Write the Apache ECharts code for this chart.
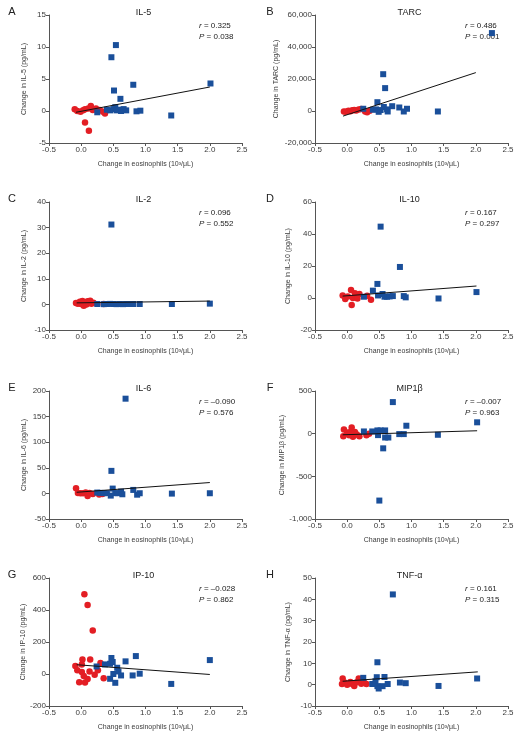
<!DOCTYPE html>
<html><head><meta charset="utf-8">
<script src="https://cdn.jsdelivr.net/npm/echarts@6/dist/echarts.min.js"></script>
<style>html,body{margin:0;padding:0;background:#fff}#c{width:522px;height:741px}</style>
</head><body><div id="c"></div>
<script>
// ---------- DATA ----------
const xTicks = [-0.5, 2.5, 0.5]; // min, max, step
const xName = 'Change in eosinophils (10\u00B3/\u03BCL)';

const panelLetters = ['A','B','C','D','E','F','G','H'];
const panelTitles = ['IL-5','TARC','IL-2','IL-10','IL-6','MIP1\u03B2','IP-10','TNF-\u03B1'];
const yNames = ['Change in IL-5 (pg/mL)','Change in TARC (pg/mL)','Change in IL-2 (pg/mL)','Change in IL-10 (pg/mL)',
  'Change in IL-6 (pg/mL)','Change in MIP1\u03B2 (pg/mL)','Change in IP-10 (pg/mL)','Change in TNF-\u03B1 (pg/mL)'];
const yMin = [-5, -20000, -10, -20, -50, -1000, -200, -10];
const yMax = [15, 60000, 40, 60, 200, 500, 600, 50];
const yStep = [5, 20000, 10, 20, 50, 500, 200, 10];
const rValues = ['0.325','0.486','0.096','0.167','\u20130.090','\u20130.007','\u20130.028','0.161'];
const pValues = ['0.038','0.001','0.552','0.297','0.576','0.963','0.862','0.315'];

const il5Red = [[-0.10,0.26],[-0.06,0],[-0.01,-0.1],[0.03,0.1],[0.06,0.26],[0.11,0.4],[0.15,0.77],[0.18,0.15],[0.23,0.4],[0.29,0.15],[0.34,-0.1],[0.37,-0.4],[0.06,-1.8],[0.12,-3.1]];
const il5Blue = [[0.25,-0.2],[0.40,0.2],[0.45,0.1],[0.47,8.4],[0.50,0.3],[0.51,3.2],[0.53,0.6],[0.54,10.3],[0.55,0.1],[0.58,0.2],[0.61,1.9],[0.62,0.0],[0.66,0.3],[0.70,0.1],[0.81,4.1],[0.86,-0.05],[0.92,0.05],[1.40,-0.7],[2.01,4.3]];
const il5Fit = [[-0.08,-0.2],[2.0,3.75]];

const tarcRed = [[-0.05,-300],[-0.02,-500],[0.02,200],[0.05,-100],[0.08,400],[0.11,600],[0.14,300],[0.18,900],[0.22,1300],[0.28,-300],[0.31,-800],[0.35,200]];
const tarcBlue = [[0.25,1400],[0.40,800],[0.45,1000],[0.47,5500],[0.49,-500],[0.52,600],[0.56,23000],[0.57,2500],[0.59,14300],[0.62,1000],[0.63,-300],[0.70,3000],[0.81,2200],[0.88,-300],[0.93,1400],[1.41,-300],[2.25,48700]];
const tarcFit = [[-0.065,-3200],[2.0,24000]];

const il2Red = [[-0.08,0.5],[-0.05,0.3],[-0.02,1.0],[0.0,0.2],[0.02,1.3],[0.04,-0.5],[0.06,0.8],[0.08,0.0],[0.10,1.2],[0.12,0.5],[0.14,1.4],[0.16,0.3],[0.19,0.6],[0.35,0.2]];
const il2Blue = [[0.25,0.15],[0.35,0.1],[0.40,0.15],[0.45,0.2],[0.47,31.2],[0.50,0.15],[0.55,0.1],[0.60,0.15],[0.65,0.1],[0.70,0.15],[0.74,0.15],[0.81,0.15],[0.91,0.15],[1.41,0.15],[2.0,0.3]];
const il2Fit = [[-0.07,0.6],[2.0,1.3]];

const il10Red = [[-0.07,1.6],[-0.03,-0.7],[0.01,1.0],[0.06,5.0],[0.07,-4.4],[0.09,0],[0.12,2.9],[0.16,-0.3],[0.19,2.5],[0.31,1.4],[0.37,-1.1]];
const il10Blue = [[0.26,0.8],[0.40,4.6],[0.47,8.8],[0.48,1.6],[0.52,44.6],[0.55,2.5],[0.58,0.8],[0.62,0.8],[0.66,1.0],[0.71,1.2],[0.82,19.4],[0.88,1.2],[0.91,0.4],[1.42,-0.3],[2.01,3.7]];
const il10Fit = [[-0.07,1.2],[2.01,7.5]];

const il6Red = [[-0.08,10],[-0.05,1],[-0.01,0.5],[0.03,0.3],[0.07,2],[0.10,-5],[0.13,1],[0.18,-1],[0.28,-2],[0.33,-1]];
const il6Blue = [[0.25,1.6],[0.30,1],[0.35,0.5],[0.40,0.5],[0.46,-4.3],[0.47,44],[0.49,9.4],[0.53,0.5],[0.57,0.5],[0.62,3.5],[0.64,-1.7],[0.69,185],[0.81,6.8],[0.87,-2.5],[0.91,0.3],[1.41,-0.4],[2.0,0.3]];
const il6Fit = [[-0.07,2.2],[2.0,21.2]];

const mipRed = [[-0.06,-29],[-0.05,50],[0.0,15],[0.03,-20],[0.06,25],[0.07,73],[0.09,-35],[0.12,20],[0.15,-10],[0.19,-30],[0.30,-20],[0.34,0]];
const mipBlue = [[0.26,26],[0.39,26],[0.47,38],[0.48,-17],[0.50,-784],[0.52,38],[0.56,-172],[0.59,-45],[0.59,38],[0.64,-45],[0.71,370],[0.81,-5],[0.88,-5],[0.92,93],[1.41,-13],[2.02,133]];
const mipFit = [[-0.07,-13],[2.02,34]];

const ip10Red = [[-0.09,50],[-0.06,23],[0.01,60],[-0.03,-51],[0.01,12],[0.02,90],[0.04,-13],[0.05,499],[0.06,-53],[0.10,432],[0.10,-32],[0.14,90],[0.13,16],[0.18,272],[0.21,-5],[0.26,23],[0.30,69],[0.35,-26]];
const ip10Blue = [[0.24,47],[0.37,60],[0.45,64],[0.45,-30],[0.47,100],[0.49,75],[0.50,0],[0.53,-55],[0.56,39],[0.58,16],[0.62,-9],[0.69,79],[0.80,-9],[0.85,112],[0.91,2],[1.40,-62],[2.0,87]];
const ip10Fit = [[-0.07,58],[2.0,-3]];

const tnfRed = [[-0.08,0.3],[-0.07,2.9],[-0.04,1.0],[0.0,0],[0.05,1.3],[0.08,0.3],[0.11,-0.6],[0.15,1.1],[0.18,2.9],[0.22,0.4],[0.27,0.8],[0.30,0.3]];
const tnfBlue = [[0.25,3.2],[0.39,0.3],[0.44,1.6],[0.46,3.5],[0.47,10.5],[0.47,-0.7],[0.49,-1.8],[0.55,-0.7],[0.58,3.6],[0.63,0.3],[0.71,42.3],[0.82,1.0],[0.91,0.7],[1.42,-0.6],[2.02,2.9]];
const tnfFit = [[-0.07,1.6],[2.03,6.0]];

const redSets = [il5Red, tarcRed, il2Red, il10Red, il6Red, mipRed, ip10Red, tnfRed];
const blueSets = [il5Blue, tarcBlue, il2Blue, il10Blue, il6Blue, mipBlue, ip10Blue, tnfBlue];
const fitSets = [il5Fit, tarcFit, il2Fit, il10Fit, il6Fit, mipFit, ip10Fit, tnfFit];

// ---------- LAYOUT ----------
const FONT = 'Liberation Sans, Arial, sans-serif';
const RED = '#e31e24', BLUE = '#1a4f9a', TXT = '#3a3a3a', AX = '#555';
const colLeft = [49, 315], plotW = 193, plotH = 128;
const rowTop = [15, 202, 391, 578];
const yNameGap = [21, 35, 21, 23, 21, 23, 21, 23];

const grids = [], xAxes = [], yAxes = [], series = [], graphics = [];
function fmtY(v) {
  let s = Math.abs(v) >= 1000 ? Math.abs(v).toLocaleString('en-US') : String(Math.abs(v));
  return (v < 0 ? '-' : '') + s;
}
for (let i = 0; i < 8; i++) {
  const col = i % 2, row = Math.floor(i / 2);
  const L = colLeft[col], T = rowTop[row];
  grids.push({left: L, top: T, width: plotW, height: plotH, containLabel: false});
  const axCommon = {
    gridIndex: i, splitLine: {show: false},
    axisLine: {show: true, onZero: false, lineStyle: {color: AX, width: 1}},
    axisTick: {show: true, inside: false, length: 3, lineStyle: {color: AX}},
    axisLabel: {color: TXT, fontSize: 8, fontFamily: FONT, margin: 3},
    nameTextStyle: {color: TXT, fontSize: 7, fontFamily: FONT}
  };
  xAxes.push(Object.assign({}, axCommon, {
    type: 'value', min: xTicks[0], max: xTicks[1], interval: xTicks[2],
    name: xName, nameLocation: 'middle', nameGap: 18,
    axisLabel: Object.assign({}, axCommon.axisLabel, {formatter: v => (v < 0 ? '-' : '') + Math.abs(v).toFixed(1)})
  }));
  yAxes.push(Object.assign({}, axCommon, {
    type: 'value', min: yMin[i], max: yMax[i], interval: yStep[i],
    name: yNames[i], nameLocation: 'middle', nameGap: yNameGap[i],
    axisLabel: Object.assign({}, axCommon.axisLabel, {formatter: fmtY})
  }));
  series.push({type: 'scatter', xAxisIndex: i, yAxisIndex: i, data: redSets[i], symbol: 'circle', symbolSize: 6.5,
    itemStyle: {color: RED, opacity: 1}, silent: true});
  series.push({type: 'scatter', xAxisIndex: i, yAxisIndex: i, data: blueSets[i], symbol: 'rect', symbolSize: 6,
    itemStyle: {color: BLUE, opacity: 1}, silent: true});
  series.push({type: 'line', xAxisIndex: i, yAxisIndex: i, data: fitSets[i], symbol: 'none',
    lineStyle: {color: '#111', width: 1}, silent: true});
  const letterX = col === 0 ? 12 : 270;
  graphics.push({type: 'text', x: letterX, y: T - 3, style: {text: panelLetters[i], font: '11px ' + FONT, fill: '#222', textAlign: 'center', textVerticalAlign: 'middle'}});
  graphics.push({type: 'text', x: L + plotW / 2 - 2, y: T - 2.5, style: {text: panelTitles[i], font: '9px ' + FONT, fill: '#222', textAlign: 'center', textVerticalAlign: 'middle'}});
  const rich = {i: {fontStyle: 'italic', fontSize: 8, fontFamily: FONT, fill: '#222'}, n: {fontSize: 8, fontFamily: FONT, fill: '#222'}};
  graphics.push({type: 'text', x: L + 150, y: T + 11, style: {text: '{i|r}{n| = ' + rValues[i] + '}', rich: rich, font: '8px ' + FONT, fill: '#222', textAlign: 'left', textVerticalAlign: 'middle'}});
  graphics.push({type: 'text', x: L + 150, y: T + 21.5, style: {text: '{i|P}{n| = ' + pValues[i] + '}', rich: rich, font: '8px ' + FONT, fill: '#222', textAlign: 'left', textVerticalAlign: 'middle'}});
}

const chart = echarts.init(document.getElementById('c'), null, {renderer: 'canvas'});
chart.setOption({
  animation: false,
  backgroundColor: '#fff',
  grid: grids, xAxis: xAxes, yAxis: yAxes, series: series, graphic: graphics
});
</script></body></html>
